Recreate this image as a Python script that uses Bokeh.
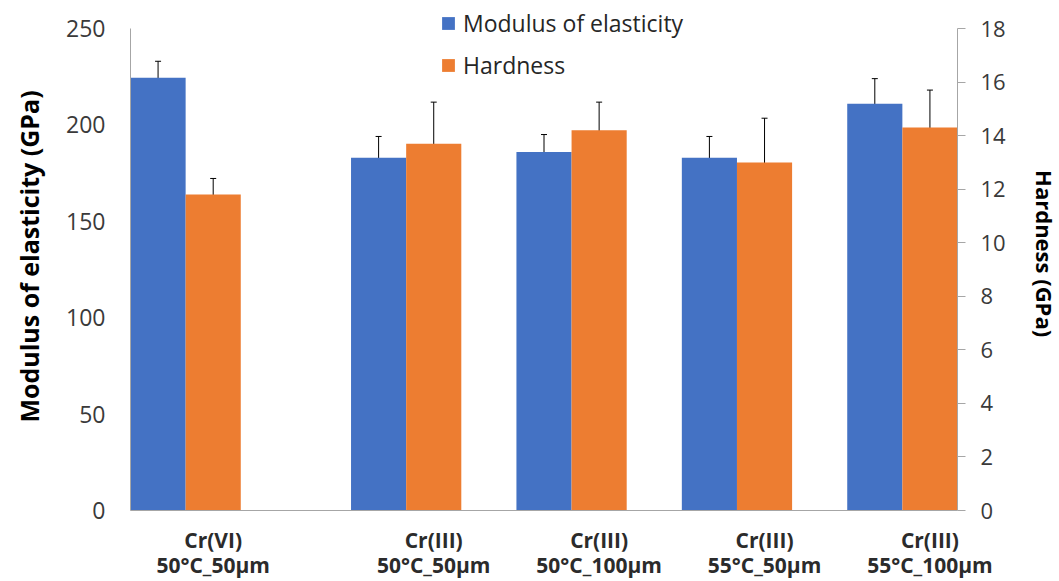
from bokeh.plotting import figure
from bokeh.models import (Range1d, LinearAxis, FixedTicker, Whisker, ColumnDataSource,
                          Legend, LegendItem, TeeHead)
from bokeh.embed import file_html
from bokeh.resources import INLINE

# ---- data ----
categories = ["Cr(VI)\n50°C_50μm", "Cr(III)\n50°C_50μm", "Cr(III)\n50°C_100μm",
              "Cr(III)\n55°C_50μm", "Cr(III)\n55°C_100μm"]
modulus = [224.5, 183, 186, 183, 211]
modulus_err = [8.5, 11, 9, 11, 13]
hardness = [11.8, 13.7, 14.2, 13.0, 14.3]
hardness_err = [0.6, 1.55, 1.05, 1.65, 1.4]
left_ticks = [0, 50, 100, 150, 200, 250]
right_ticks = [0, 2, 4, 6, 8, 10, 12, 14, 16, 18]

BLUE = "#4472C4"
ORANGE = "#ED7D31"
FONT = "Open Sans"
AXIS_GRAY = "#a6a6a6"
TEXT_GRAY = "#3a3a3a"

# layout: each category slot = 3 units, one bar = 1 unit, extra gap after first group
pos = [i * 3 + (1 if i > 0 else 0) for i in range(len(categories))]
bx = [q - 1 for q in pos]
ox = list(pos)

# the frame reaches up to the top of the canvas so the legend is not clipped;
# the axes are bounded to 0..250 and 0..18 (the axis tops sit 28px below canvas top)
AXIS_H = 482
TOP_GAP = 26
FRAME_H = AXIS_H + TOP_GAP
L_MAX = left_ticks[-1]
R_MAX = right_ticks[-1]

p = figure(frame_width=827, frame_height=FRAME_H, output_backend="svg", toolbar_location=None,
           x_range=Range1d(pos[0] - 1.5, pos[-1] + 0.5),
           y_range=Range1d(0, L_MAX * FRAME_H / AXIS_H),
           min_border_left=130, min_border_right=100, min_border_top=2, min_border_bottom=70)
p.extra_y_ranges = {"hard": Range1d(0, R_MAX * FRAME_H / AXIS_H)}
p.title.visible = False
p.outline_line_color = None
p.xgrid.visible = False
p.ygrid.visible = False
p.background_fill_color = "white"

bsrc = ColumnDataSource(dict(x=bx, top=modulus,
                             upper=[v + e for v, e in zip(modulus, modulus_err)],
                             lower=[v - e for v, e in zip(modulus, modulus_err)]))
osrc = ColumnDataSource(dict(x=ox, top=hardness,
                             upper=[v + e for v, e in zip(hardness, hardness_err)],
                             lower=[v - e for v, e in zip(hardness, hardness_err)]))

rb = p.vbar(x="x", top="top", width=1, source=bsrc, fill_color=BLUE, line_color=None)
ro = p.vbar(x="x", top="top", width=1, source=osrc, fill_color=ORANGE, line_color=None,
            y_range_name="hard")

for src, rng in ((bsrc, "default"), (osrc, "hard")):
    w = Whisker(base="x", upper="upper", lower="lower", source=src, line_color="black",
                line_width=1, y_range_name=rng,
                upper_head=TeeHead(size=6, line_color="black", line_width=1),
                lower_head=TeeHead(size=6, line_color="black", line_width=1))
    p.add_layout(w)

# bottom axis
xa = p.xaxis[0]
xa.ticker = FixedTicker(ticks=pos)
xa.major_label_overrides = {q: c for q, c in zip(pos, categories)}
xa.major_tick_out = 0
xa.major_tick_in = 0
xa.minor_tick_out = 0
xa.minor_tick_in = 0
xa.axis_line_color = AXIS_GRAY
xa.major_label_text_font = FONT
xa.major_label_text_font_style = "bold"
xa.major_label_text_font_size = "21px"
xa.major_label_text_color = "#2b2b2b"
xa.major_label_text_line_height = 0.9
xa.major_label_standoff = 15

# left axis
ya = p.yaxis[0]
ya.ticker = FixedTicker(ticks=left_ticks)
ya.bounds = (0, L_MAX)
ya.major_tick_out = 0
ya.major_tick_in = 0
ya.minor_tick_out = 0
ya.minor_tick_in = 0
ya.axis_line_color = AXIS_GRAY
ya.major_label_text_font = FONT
ya.major_label_text_font_size = "23px"
ya.major_label_text_color = TEXT_GRAY
ya.major_label_standoff = 25
ya.axis_label = "Modulus of elasticity (GPa)"
ya.axis_label_text_font = FONT
ya.axis_label_text_font_style = "bold"
ya.axis_label_text_font_size = "25px"
ya.axis_label_text_color = "black"
ya.axis_label_standoff = 17

# right axis
ra = LinearAxis(y_range_name="hard", ticker=FixedTicker(ticks=right_ticks))
ra.bounds = (0, R_MAX)
ra.major_tick_out = 8
ra.major_tick_in = 0
ra.minor_tick_out = 0
ra.minor_tick_in = 0
ra.axis_line_color = AXIS_GRAY
ra.major_tick_line_color = AXIS_GRAY
ra.major_label_text_font = FONT
ra.major_label_text_font_size = "22px"
ra.major_label_text_color = TEXT_GRAY
ra.major_label_standoff = 15
ra.axis_label = "Hardness  (GPa)"
ra.axis_label_text_font = FONT
ra.axis_label_text_font_style = "bold"
ra.axis_label_text_font_size = "22px"
ra.axis_label_text_color = "black"
ra.axis_label_standoff = 21
p.add_layout(ra, "right")

legend = Legend(items=[LegendItem(label="Modulus of elasticity", renderers=[rb]),
                       LegendItem(label="Hardness", renderers=[ro])],
                location=(310, 429), padding=0, margin=0, spacing=10,
                glyph_width=16, glyph_height=16, label_standoff=7,
                label_text_font=FONT, label_text_font_size="23px",
                label_text_color="#262626", border_line_alpha=0,
                background_fill_alpha=0)
p.add_layout(legend, "center")

open("out.html", "w").write(file_html(p, INLINE))
